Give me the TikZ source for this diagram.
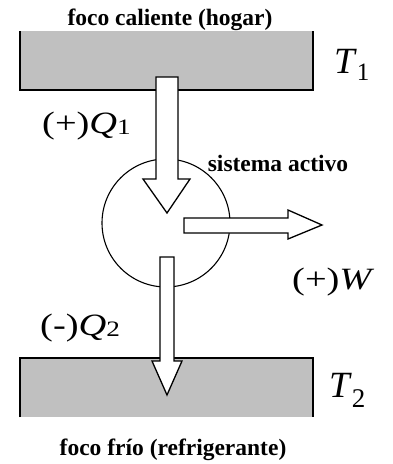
\documentclass[tikz,border=0pt]{standalone}
\usepackage{fontspec}
\setmainfont{Liberation Serif}
\newfontfamily\magnfont{Liberation Serif}[FakeStretch=1.24]
\usetikzlibrary{positioning}
\definecolor{focogris}{RGB}{192,192,192}
\newcommand{\subind}[3]{\raisebox{#2}{\fontsize{#3}{#3}\selectfont #1}}

\begin{document}
\begin{tikzpicture}[x=1pt, y=-1pt,
  foco/.style={fill=focogris, draw=none},
  borde/.style={black, line width=1.3pt, line join=miter},
  flecha/.style={fill=white, draw=black, line width=1.3pt, line join=miter},
  rotulo/.style={font=\fontsize{23.5}{25}\selectfont\bfseries, inner sep=0pt, anchor=base},
  magn/.style={font=\magnfont\fontsize{31}{33}\selectfont, inner sep=0pt, anchor=base west},
  temp/.style={font=\fontsize{37}{39}\selectfont, inner sep=0pt, anchor=base west},
]
  \useasboundingbox (0,0) rectangle (392,464);

  % ── focos ──
  \fill[foco] (20,31) rectangle (313,90);
  \draw[borde] (20,31) -- (20,90) -- (313,90) -- (313,31);
  \fill[foco] (20,358) rectangle (313,417);
  \draw[borde] (20,417) -- (20,358) -- (313,358) -- (313,417);

  % ── sistema activo ──
  \draw[borde, line width=1.1pt] (166,223) circle[radius=64];

  % ── flechas de calor y trabajo ──
  \draw[flecha] (156,77) -- (178,77) -- (178,179) -- (190,179) -- (167,213)
    -- (143,179) -- (156,179) -- cycle;
  \draw[flecha] (184,218) -- (288,218) -- (288,210) -- (322,225) -- (288,239)
    -- (288,233) -- (184,233) -- cycle;
  \draw[flecha] (160,257) -- (174,257) -- (174,361) -- (182,361) -- (167,395)
    -- (152,361) -- (160,361) -- cycle;

  % ── rotulos ──
  \node[rotulo] (hogar) at (170,25) {foco caliente (hogar)};
  \node[rotulo] (sistema) at (278,171) {sistema activo};
  \node[rotulo] (refrig) at (173,455) {foco frío (refrigerante)};

  \node[temp] (t1) at (334,73) {\textit{T}\subind{1}{-7pt}{25}};
  \node[temp] (t2) at (329,397) {\textit{T}\subind{2}{-10pt}{27}};
  \node[magn] (q1) at (42,133) {(+)\textit{Q}\subind{1}{-1pt}{22}};
  \node[magn] (w) at (292,289) {(+)\textit{W}};
  \node[magn] (q2) at (40,335) {(-)\textit{Q}\subind{2}{-1pt}{22}};
\end{tikzpicture}
\end{document}
